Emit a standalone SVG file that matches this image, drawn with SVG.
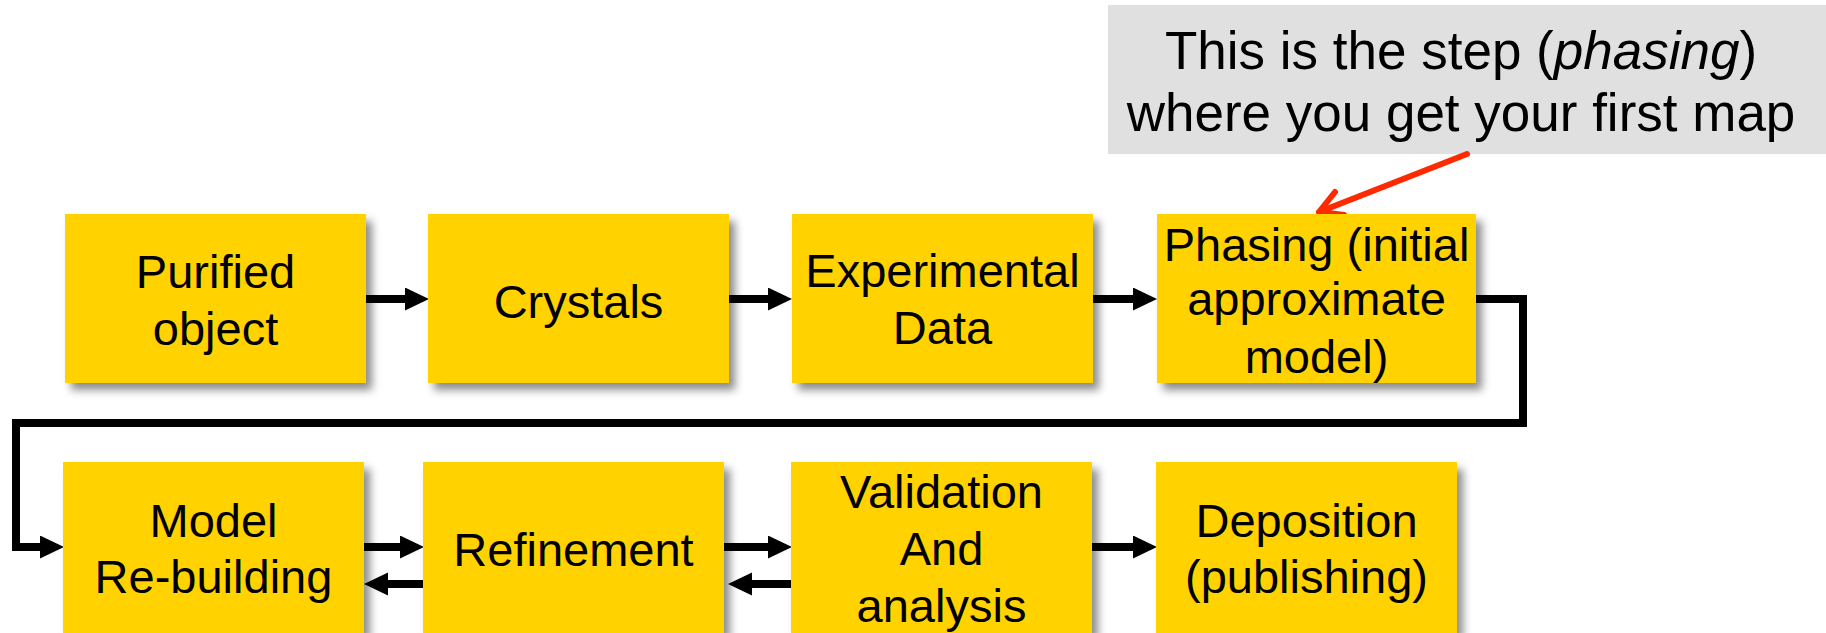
<svg xmlns="http://www.w3.org/2000/svg" width="1826" height="633" viewBox="0 0 1826 633">
<style>
  .box { fill: #FFD200; filter: url(#shadow); }
  .lbl { font-family: "Liberation Sans", Arial, sans-serif; font-size: 47px; fill: #000; text-anchor: middle; }
  .note { font-family: "Liberation Sans", Arial, sans-serif; font-size: 53px; fill: #000; text-anchor: middle; }
  .conn { fill: none; stroke: #000; stroke-width: 8; stroke-linejoin: miter; }
  .red { fill: none; stroke: #FF2A00; stroke-width: 6; stroke-linecap: round; stroke-linejoin: round; }
</style>
<defs>
  <filter id="shadow" x="-10%" y="-10%" width="130%" height="130%">
    <feDropShadow dx="6" dy="7" stdDeviation="4.5" flood-color="#000" flood-opacity="0.45"/>
  </filter>
  <marker id="head" markerUnits="userSpaceOnUse" markerWidth="24" markerHeight="24" viewBox="0 0 24 24" refX="0" refY="11.5" orient="auto">
    <path d="M0,0 L24,11.5 L0,23 Z" fill="#000"/>
  </marker>
  <linearGradient id="fade" gradientUnits="userSpaceOnUse" x1="724" y1="0" x2="748" y2="0">
    <stop offset="0" stop-color="#777"/>
    <stop offset="1" stop-color="#000"/>
  </linearGradient>
</defs>
<rect width="1826" height="633" fill="#fff"/>

<g id="callout">
  <rect x="1108" y="5" width="718" height="149" fill="#E0E0E0"/>
  <text class="note" x="1461" y="69">This is the step (<tspan font-style="italic">phasing</tspan>)</text>
  <text class="note" x="1461" y="131">where you get your first map</text>
</g>

<g id="connectors">
  <path class="conn" d="M366,299 H405" marker-end="url(#head)"/>
  <path class="conn" d="M729,299 H768" marker-end="url(#head)"/>
  <path class="conn" d="M1093,299 H1133" marker-end="url(#head)"/>
  <path class="conn" d="M1476,299 H1523 V423 H16 V547 H40" marker-end="url(#head)"/>
  <path class="conn" d="M364,547 H400" marker-end="url(#head)"/>
  <path class="conn" d="M423,584 H388" marker-end="url(#head)"/>
  <path class="conn" d="M724,547 H768" stroke="url(#fade)" marker-end="url(#head)"/>
  <path class="conn" d="M791,584 H752" marker-end="url(#head)"/>
  <path class="conn" d="M1092,547 H1133" marker-end="url(#head)"/>
  <path class="red" d="M1467,154 L1319,212 M1335,192 L1319,212 L1344,215"/>
</g>

<g id="purified">
  <rect class="box" x="65" y="214" width="301" height="169"/>
  <text class="lbl" x="215.5" y="288">Purified</text>
  <text class="lbl" x="215.5" y="345">object</text>
</g>
<g id="crystals">
  <rect class="box" x="428" y="214" width="301" height="169"/>
  <text class="lbl" x="578.5" y="318">Crystals</text>
</g>
<g id="experimental">
  <rect class="box" x="792" y="214" width="301" height="169"/>
  <text class="lbl" x="942.5" y="287">Experimental</text>
  <text class="lbl" x="942.5" y="344">Data</text>
</g>
<g id="phasing">
  <rect class="box" x="1157" y="214" width="319" height="169"/>
  <text class="lbl" x="1316.5" y="261">Phasing (initial</text>
  <text class="lbl" x="1316.5" y="315">approximate</text>
  <text class="lbl" x="1316.5" y="373">model)</text>
</g>
<g id="model">
  <rect class="box" x="63" y="462" width="301" height="171"/>
  <text class="lbl" x="213.5" y="537">Model</text>
  <text class="lbl" x="213.5" y="593">Re-building</text>
</g>
<g id="refinement">
  <rect class="box" x="423" y="462" width="301" height="171"/>
  <text class="lbl" x="573.5" y="566">Refinement</text>
</g>
<g id="validation">
  <rect class="box" x="791" y="462" width="301" height="171"/>
  <text class="lbl" x="941.5" y="508">Validation</text>
  <text class="lbl" x="941.5" y="565">And</text>
  <text class="lbl" x="941.5" y="622">analysis</text>
</g>
<g id="deposition">
  <rect class="box" x="1156" y="462" width="301" height="171"/>
  <text class="lbl" x="1306.5" y="537">Deposition</text>
  <text class="lbl" x="1306.5" y="593">(publishing)</text>
</g>
</svg>
